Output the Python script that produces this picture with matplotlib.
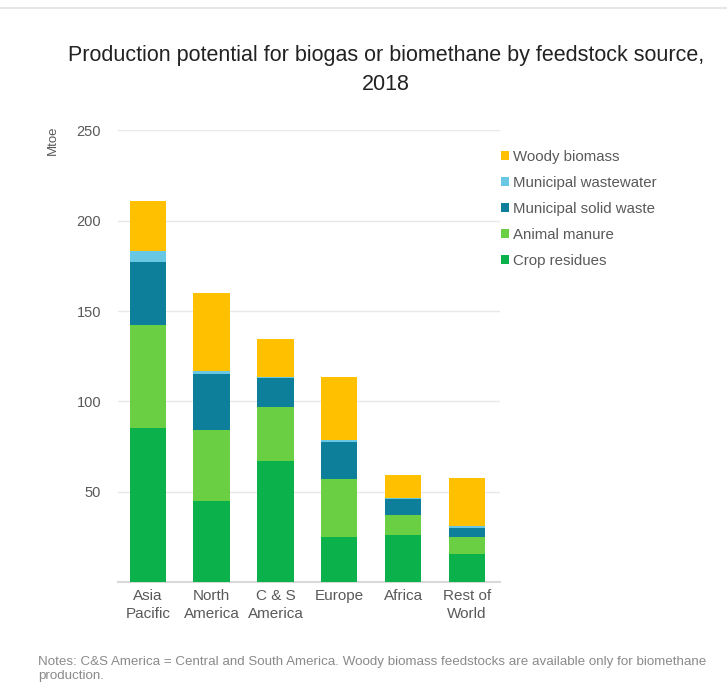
import numpy as np
import matplotlib.pyplot as plt

plt.rcParams['font.family'] = ['Liberation Sans', 'DejaVu Sans']

# data (Mtoe)
regions = ['Asia\nPacific', 'North\nAmerica', 'C & S\nAmerica', 'Europe', 'Africa', 'Rest of\nWorld']
crop_residues = [85.5, 45, 67, 25, 26, 15.5]
animal_manure = [56.5, 39, 30, 32, 11, 9.5]
municipal_solid = [35, 31, 16, 20.5, 9, 5]
municipal_wastewater = [6, 2, 0.6, 1, 0.5, 0.8]
woody_biomass = [28, 43, 21, 35, 12.5, 27]

series = [
    ('Crop residues', crop_residues, '#0BB14A'),
    ('Animal manure', animal_manure, '#6BCF44'),
    ('Municipal solid waste', municipal_solid, '#0D7F9B'),
    ('Municipal wastewater', municipal_wastewater, '#68C7E2'),
    ('Woody biomass', woody_biomass, '#FFC000'),
]

grey = '#595959'
fig = plt.figure(figsize=(7.27, 6.83), dpi=100)
ax = fig.add_axes([0.162, 0.148, 0.526, 0.661])

x = np.arange(len(regions))
bottom = np.zeros(len(regions))
handles = []
for name, vals, col in series:
    b = ax.bar(x, vals, width=0.57, bottom=bottom, color=col, label=name, zorder=3)
    bottom += np.array(vals)
    handles.append(b)

ax.set_ylim(0, 250)
ax.set_xlim(-0.47, 5.52)
ax.set_yticks([50, 100, 150, 200, 250])
ax.set_xticks(x)
ax.set_xticklabels(regions, fontsize=11, color=grey, linespacing=1.35)
ax.tick_params(axis='y', labelsize=10.5, labelcolor=grey, length=0, pad=12)
ax.tick_params(axis='x', length=0, pad=5)
ax.grid(axis='y', color='#E8E8E8', linewidth=1, zorder=0)
for s in ['top', 'right', 'left']:
    ax.spines[s].set_visible(False)
ax.spines['bottom'].set_color('#D9D9D9')
ax.spines['bottom'].set_linewidth(1.5)

fig.text(0.073, 0.794, 'Mtoe', rotation=90, fontsize=9.5, color=grey, ha='center', va='center')

# legend, top item first
leg = fig.legend(handles[::-1], [s[0] for s in series][::-1], loc='upper left',
                 bbox_to_anchor=(0.67, 0.8), frameon=False, fontsize=10.8,
                 handlelength=0.55, handleheight=0.55, handletextpad=0.3,
                 labelspacing=0.8, labelcolor=grey)

fig.text(0.531, 0.8975, 'Production potential for biogas or biomethane by feedstock source,\n2018',
         ha='center', va='center', fontsize=15.5, color='#222222', linespacing=1.45)

fig.text(0.052, 0.021,
         'Notes: C&S America = Central and South America. Woody biomass feedstocks are available only for biomethane\nproduction.',
         ha='left', va='center', fontsize=9.6, color='#8a8a8a', linespacing=1.25)

fig.add_artist(plt.Line2D([0, 1], [0.988, 0.988], color='#E6E6E6', linewidth=1.5))

fig.savefig('out.png', dpi=100)
